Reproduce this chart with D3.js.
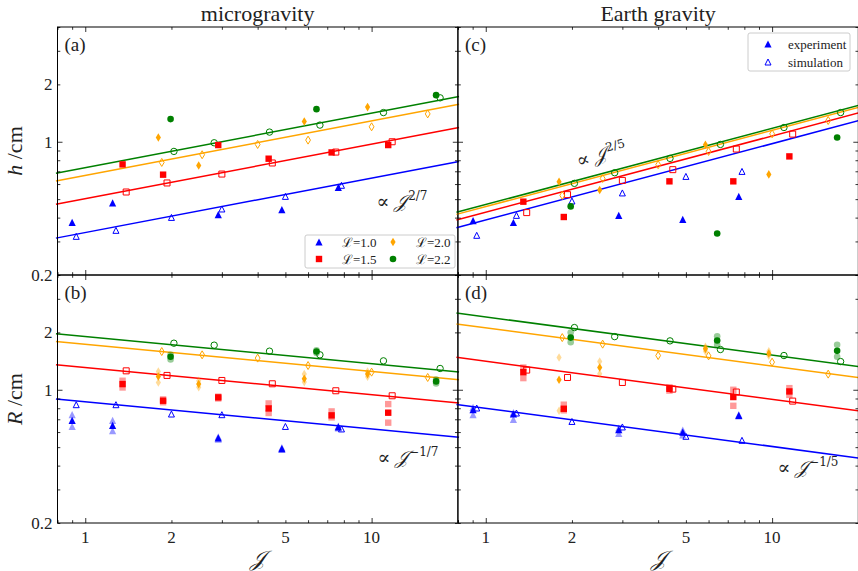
<!DOCTYPE html>
<html>
<head>
<meta charset="utf-8">
<script src="https://cdn.jsdelivr.net/npm/d3@7.9.0/dist/d3.min.js"></script>
<style>
  body { margin: 0; background: #fff; }
</style>
</head>
<body>
<svg id="fig" width="858" height="571" font-family="'Liberation Serif', 'DejaVu Serif', serif"></svg>
<script>
// levels of L, one colour / marker per level
const levels = ["1.0", "1.5", "2.0", "2.2"];
const colors = ["#0000ff", "#ff0000", "#ffa500", "#008000"];
const shapes = ["triangle", "square", "diamond", "circle"];

// simulation J values (same in all panels)
const simJ = [
  [0.93, 1.28, 2.0, 3.0, 5.0, 7.85],
  [1.39, 1.93, 3.0, 4.5, 7.5, 11.8],
  [1.85, 2.56, 4.0, 6.0, 10.0, 15.7],
  [2.04, 2.82, 4.4, 6.6, 11.0, 17.35]
];

// microgravity
const microSimH = [
  [0.319, 0.343, 0.401, 0.444, 0.517, 0.591],
  [0.545, 0.608, 0.677, 0.774, 0.883, 1.00],
  [0.779, 0.855, 0.968, 1.02, 1.198, 1.40],
  [0.890, 0.988, 1.124, 1.223, 1.423, 1.70]
];
const microSimR = [
  [0.835, 0.835, 0.746, 0.740, 0.642, 0.623],
  [1.257, 1.189, 1.119, 1.075, 0.988, 0.930],
  [1.587, 1.525, 1.466, 1.34, 1.237, 1.16],
  [1.755, 1.714, 1.594, 1.525, 1.418, 1.293]
];
const microExpJ = [
  [0.9, 1.246, 2.914, 4.86, 7.65],
  [1.35, 1.87, 2.914, 4.37, 7.25, 11.43],
  [1.80, 2.49, 5.82, 9.68],
  [1.986, 6.42, 16.8]
];
const microExpH = [
  [0.378, 0.478, 0.415, 0.441, 0.576],
  [0.761, 0.672, 0.961, 0.815, 0.879, 0.961],
  [1.053, 0.751, 1.277, 1.52],
  [1.315, 1.483, 1.756]
];
const microExpR = [
  [0.691, 0.650, 0.559, 0.491, 0.638],
  [1.071, 0.876, 0.912, 0.798, 0.734, 0.758],
  [1.174, 1.071, 1.142, 1.208],
  [1.489, 1.587, 1.106]
];
const microExpRLo = [
  [0.642, 0.610, 0.550, 0.487, 0.630],
  [1.028, 0.860, 0.900, 0.755, 0.716, 0.672],
  [1.092, 1.030, 1.097, 1.170],
  [1.441, 1.560, 1.080]
];
const microExpRHi = [
  [0.740, 0.691, 0.567, 0.497, 0.645],
  [1.115, 0.890, 0.920, 0.848, 0.770, 0.841],
  [1.247, 1.115, 1.208, 1.247],
  [1.525, 1.610, 1.130]
];

// Earth gravity
const earthSimH = [
  [0.323, 0.411, 0.489, 0.539, 0.658, 0.699],
  [0.425, 0.528, 0.627, 0.714, 0.916, 1.097],
  [0.523, 0.642, 0.758, 0.89, 1.101, 1.293],
  [0.605, 0.688, 0.818, 0.968, 1.188, 1.423]
];
const earthSimR = [
  [0.802, 0.755, 0.682, 0.638, 0.57, 0.543],
  [1.268, 1.16, 1.092, 1.008, 0.973, 0.872],
  [1.878, 1.735, 1.512, 1.506, 1.396, 1.208],
  [2.12, 1.90, 1.805, 1.626, 1.512, 1.406]
];
const earthExpJ = [
  [0.903, 1.249, 2.914, 4.876, 7.65],
  [1.353, 1.873, 4.38, 7.32, 11.49],
  [1.803, 2.5, 5.85, 9.74],
  [1.98, 6.43, 16.87]
];
const earthExpH = [
  [0.386, 0.377, 0.411, 0.392, 0.517],
  [0.485, 0.403, 0.620, 0.620, 0.838],
  [0.617, 0.558, 0.964, 0.674],
  [0.458, 0.330, 1.053]
];
const earthExpR = [
  [0.786, 0.746, 0.617, 0.600, 0.734],
  [1.237, 0.795, 1.012, 0.916, 0.980],
  [1.128, 1.309, 1.639, 1.549],
  [1.878, 1.813, 1.600]
];
const earthExpRLo = [
  [0.740, 0.700, 0.590, 0.580, 0.730],
  [1.151, 0.780, 0.990, 0.824, 0.940],
  [0.776, 1.213, 1.590, 1.510],
  [1.777, 1.720, 1.489]
];
const earthExpRHi = [
  [0.808, 0.760, 0.630, 0.615, 0.740],
  [1.308, 0.835, 1.030, 1.000, 1.020],
  [1.476, 1.406, 1.680, 1.590],
  [1.996, 1.910, 1.720]
];

// power-law fits: value = C * J^p
const microFitH = [0.334, 0.503, 0.666, 0.731];
const earthFitH = [0.389, 0.427, 0.457, 0.4685];
const microFitR = [0.866, 1.309, 1.734, 1.903];
const earthFitR = [0.799, 1.412, 2.112, 2.411];

const xTicks = [1, 2, 5, 10];
const xMinor = [0.8, 0.9, 2, 3, 4, 5, 6, 7, 8, 9, 20];
const yTicks = [0.2, 1, 2];
const yMinor = [0.2, 0.3, 0.4, 0.5, 0.6, 0.7, 0.8, 0.9, 2, 3, 4];

/******************************************************
 * layout
 ******************************************************/
const FONT = "'Liberation Serif', 'DejaVu Serif', serif";
const INK = "#222";
const svg = d3.select("#fig");
const pw = 400.3, ph = 248;
const colX = [57.5, 458];
const rowY = [27, 275];

const x = d3.scaleLog().domain([0.8, 20]).range([0, pw]);
const y = d3.scaleLog().domain([0.2, 4]).range([ph, 0]);

const panels = [
  { tag: "(a)", col: 0, row: 0, expJ: microExpJ, exp: microExpH, sim: microSimH, fit: microFitH, p: 2 / 7 },
  { tag: "(b)", col: 0, row: 1, expJ: microExpJ, exp: microExpR, lo: microExpRLo, hi: microExpRHi, sim: microSimR, fit: microFitR, p: -1 / 7 },
  { tag: "(c)", col: 1, row: 0, expJ: earthExpJ, exp: earthExpH, sim: earthSimH, fit: earthFitH, p: 2 / 5 },
  { tag: "(d)", col: 1, row: 1, expJ: earthExpJ, exp: earthExpR, lo: earthExpRLo, hi: earthExpRHi, sim: earthSimR, fit: earthFitR, p: -1 / 5 }
];

function txt(sel, size) {
  return sel.append("text")
    .attr("font-family", FONT)
    .attr("font-size", size)
    .attr("fill", INK);
}

function markerPath(shape) {
  if (shape === "triangle") { const s = 3.6; return `M0,${-s}L${s},${s}L${-s},${s}Z`; }
  if (shape === "square") { const s = 3.2; return `M${-s},${-s}H${s}V${s}H${-s}Z`; }
  if (shape === "diamond") { const s = 4.3; return `M0,${-s}L${s * 0.6},0L0,${s}L${-s * 0.6},0Z`; }
  const r = 3.3;
  return `M${r},0A${r},${r},0,1,1,${-r},0A${r},${r},0,1,1,${r},0Z`;
}
function openPath(shape) {
  if (shape === "triangle") { const s = 3.0; return `M0,${-s}L${s},${s}L${-s},${s}Z`; }
  if (shape === "square") { const s = 3.0; return `M${-s},${-s}H${s}V${s}H${-s}Z`; }
  if (shape === "diamond") { const s = 4.0; return `M0,${-s}L${s * 0.6},0L0,${s}L${-s * 0.6},0Z`; }
  const r = 3.2;
  return `M${r},0A${r},${r},0,1,1,${-r},0A${r},${r},0,1,1,${r},0Z`;
}

// script J with optional exponent
function addJ(sel, power) {
  sel.append("tspan").attr("font-style", "italic").text("\uD835\uDCA5");
  if (power) {
    sel.append("tspan").attr("dx", 1).attr("dy", -8)
      .attr("font-size", 12).attr("font-family", "'DejaVu Serif', serif")
      .text(power);
  }
}

panels.forEach(P => {
  const g = svg.append("g")
    .attr("transform", `translate(${colX[P.col]},${rowY[P.row]})`);

  // fit lines
  const Js = [0.79, 20.2];
  levels.forEach((L, i) => {
    g.append("path")
      .attr("d", d3.line().x(d => x(d)).y(d => y(P.fit[i] * Math.pow(d, P.p)))(Js))
      .attr("fill", "none")
      .attr("stroke", colors[i])
      .attr("stroke-width", 1.5);
  });

  // experiment spread (faded markers)
  if (P.lo) {
    levels.forEach((L, i) => {
      const pts = [];
      P.expJ[i].forEach((j, k) => {
        pts.push([j, P.lo[i][k]]);
        pts.push([j, P.hi[i][k]]);
      });
      g.selectAll(null).data(pts).enter().append("path")
        .attr("d", markerPath(shapes[i]))
        .attr("transform", d => `translate(${x(d[0])},${y(d[1])})`)
        .attr("fill", colors[i])
        .attr("fill-opacity", 0.4);
    });
  }

  // simulation markers (open)
  levels.forEach((L, i) => {
    g.selectAll(null).data(simJ[i].map((j, k) => [j, P.sim[i][k]])).enter().append("path")
      .attr("d", openPath(shapes[i]))
      .attr("transform", d => `translate(${x(d[0])},${y(d[1])})`)
      .attr("fill", "none")
      .attr("stroke", colors[i])
      .attr("stroke-width", 1);
  });

  // experiment markers (filled)
  levels.forEach((L, i) => {
    g.selectAll(null).data(P.expJ[i].map((j, k) => [j, P.exp[i][k]])).enter().append("path")
      .attr("d", markerPath(shapes[i]))
      .attr("transform", d => `translate(${x(d[0])},${y(d[1])})`)
      .attr("fill", colors[i]);
  });

  // ticks pointing inward on all sides
  const tickSets = [
    [d3.axisBottom(x), ph, 0], [d3.axisTop(x), 0, 0],
    [d3.axisLeft(y), 0, 1], [d3.axisRight(y), pw, 1]
  ];
  tickSets.forEach(([ax, off, isY]) => {
    [[isY ? [1] : [1, 10], 5], [isY ? yMinor : xMinor, 2.8]].forEach(([vals, len]) => {
      const a = g.append("g")
        .attr("transform", isY ? `translate(${off},0)` : `translate(0,${off})`)
        .call(ax.tickValues(vals).tickSize(-len).tickFormat(""));
      a.select(".domain").remove();
      a.selectAll("line").attr("stroke", "#000").attr("stroke-width", 0.8);
    });
  });

  g.append("rect")
    .attr("width", pw).attr("height", ph)
    .attr("fill", "none").attr("stroke", "#000").attr("stroke-width", 1);

  // tick labels
  if (P.col === 0) {
    yTicks.forEach(v => {
      txt(g, 17).attr("x", -5).attr("y", y(v)).attr("dy", "0.35em")
        .attr("text-anchor", "end").text(v);
    });
  }
  if (P.row === 1) {
    xTicks.forEach(v => {
      txt(g, 17).attr("x", x(v)).attr("y", ph + 20)
        .attr("text-anchor", "middle").text(v);
    });
    const xl = txt(g, 22).attr("x", pw / 2).attr("y", ph + 43)
      .attr("text-anchor", "middle");
    addJ(xl, null);
  }

  txt(g, 19).attr("x", 7).attr("y", 24).text(P.tag);
});

// annotations
function annot(px, py, power, rot) {
  const t = txt(svg, 19)
    .attr("transform", `translate(${px},${py}) rotate(${rot})`)
    .attr("text-anchor", "middle");
  t.append("tspan").text("\u221D ");
  addJ(t, power);
}
annot(402, 208, "2/7", 0);
annot(603, 161, "2/5", -15);
annot(408, 464, "\u22121/7", 0);
annot(808, 474, "\u22121/5", 0);

// titles
txt(svg, 22).attr("x", colX[0] + pw / 2).attr("y", 21)
  .attr("text-anchor", "middle").text("microgravity");
txt(svg, 22).attr("x", colX[1] + pw / 2).attr("y", 21)
  .attr("text-anchor", "middle").text("Earth gravity");

// y labels
[["h", rowY[0] + ph / 2], ["R", rowY[1] + ph / 2]].forEach(([v, cy]) => {
  const t = txt(svg, 22)
    .attr("transform", `translate(22,${cy}) rotate(-90)`)
    .attr("text-anchor", "middle");
  t.append("tspan").attr("font-style", "italic").text(v);
  t.append("tspan").text(" /cm");
});

// legend (a): L levels
const lg = svg.append("g").attr("transform", "translate(305,235)");
lg.append("rect").attr("width", 150).attr("height", 33).attr("rx", 2)
  .attr("fill", "#fff").attr("fill-opacity", 0.8).attr("stroke", "#ccc");
levels.forEach((L, i) => {
  const cx = i < 2 ? 14 : 88, cy = i % 2 === 0 ? 7 : 24;
  lg.append("path").attr("d", markerPath(shapes[i]))
    .attr("transform", `translate(${cx},${cy})`).attr("fill", colors[i]);
  txt(lg, 13).attr("x", cx + 23).attr("y", cy).attr("dy", "0.35em")
    .text(`\u2112=${L}`);
});

// legend (c): experiment / simulation
const lc = svg.append("g").attr("transform", "translate(748,33)");
lc.append("rect").attr("width", 102).attr("height", 38).attr("rx", 2)
  .attr("fill", "#fff").attr("fill-opacity", 0.8).attr("stroke", "#ccc");
lc.append("path").attr("d", markerPath("triangle"))
  .attr("transform", "translate(20,11)").attr("fill", colors[0]);
lc.append("path").attr("d", openPath("triangle"))
  .attr("transform", "translate(20,29)").attr("fill", "none").attr("stroke", colors[0]);
txt(lc, 13).attr("x", 40).attr("y", 11).attr("dy", "0.35em").text("experiment");
txt(lc, 13).attr("x", 40).attr("y", 29).attr("dy", "0.35em").text("simulation");
</script>
</body>
</html>
